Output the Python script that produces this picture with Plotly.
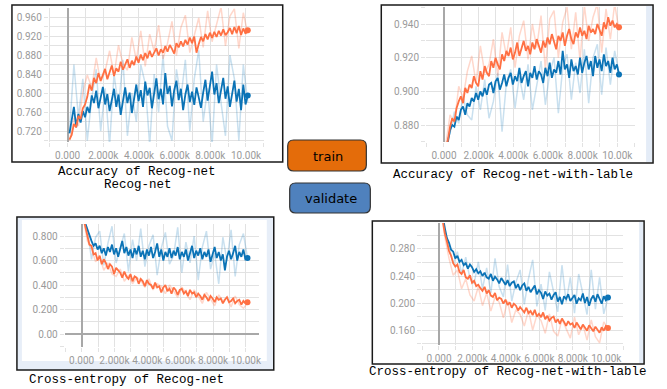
import plotly.graph_objects as go

W, H = 667, 389

# ---------------- data ----------------
steps = list(range(100, 10101, 125))      # training steps (81 points)
raw_steps = steps[::2]                     # raw (unsmoothed) points (41)

x_tickvals = [0, 2000, 4000, 6000, 8000, 10000]
x_ticktext = ["0.000", "2.000k", "4.000k", "6.000k", "8.000k", "10.00k"]

# Panel 1: Accuracy of Recog-net
acc_train = [0.702, 0.712, 0.735, 0.728, 0.752, 0.745, 0.768, 0.776, 0.792, 0.818,
             0.805, 0.832, 0.821, 0.842, 0.826, 0.838, 0.851, 0.829, 0.846, 0.858,
             0.836, 0.852, 0.845, 0.866, 0.849, 0.862, 0.871, 0.853, 0.868, 0.859,
             0.877, 0.864, 0.881, 0.869, 0.884, 0.873, 0.889, 0.876, 0.886, 0.894,
             0.879, 0.892, 0.885, 0.899, 0.887, 0.901, 0.893, 0.883, 0.905, 0.896,
             0.909, 0.898, 0.912, 0.902, 0.917, 0.905, 0.919, 0.885, 0.903, 0.918,
             0.909, 0.924, 0.913, 0.927, 0.916, 0.929, 0.918, 0.931, 0.921, 0.934,
             0.922, 0.928, 0.937, 0.924, 0.939, 0.926, 0.941, 0.922, 0.936, 0.925, 0.932]
acc_val = [0.715, 0.742, 0.771, 0.728, 0.756, 0.738, 0.762, 0.749, 0.771, 0.758,
           0.795, 0.779, 0.805, 0.768, 0.792, 0.813, 0.776, 0.798, 0.762, 0.788,
           0.809, 0.771, 0.797, 0.754, 0.786, 0.812, 0.779, 0.801, 0.758, 0.792,
           0.818, 0.783, 0.806, 0.771, 0.824, 0.795, 0.811, 0.768, 0.802, 0.831,
           0.787, 0.809, 0.776, 0.842, 0.798, 0.815, 0.772, 0.806, 0.826, 0.785,
           0.809, 0.764, 0.797, 0.818, 0.781, 0.803, 0.775, 0.812, 0.791, 0.769,
           0.801, 0.828, 0.784, 0.812, 0.845, 0.797, 0.821, 0.779, 0.806, 0.832,
           0.788, 0.814, 0.771, 0.803, 0.826, 0.782, 0.809, 0.764, 0.818, 0.776, 0.795]
acc_train_raw = [0.700, 0.748, 0.731, 0.802, 0.838, 0.811, 0.874, 0.823, 0.846, 0.889,
                 0.838, 0.901, 0.862, 0.848, 0.917, 0.869, 0.931, 0.856, 0.924, 0.888,
                 0.943, 0.872, 0.905, 0.951, 0.879, 0.938, 0.964, 0.885, 0.921, 0.958,
                 0.896, 0.973, 0.908, 0.947, 0.981, 0.899, 0.962, 0.977, 0.894, 0.969, 0.925]
acc_val_raw = [0.72, 0.86, 0.75, 0.83, 0.70, 0.79, 0.85, 0.72, 0.81, 0.69,
               0.84, 0.77, 0.87, 0.71, 0.80, 0.74, 0.86, 0.82, 0.69, 0.84,
               0.76, 0.88, 0.73, 0.70, 0.85, 0.79, 0.87, 0.72, 0.83, 0.89,
               0.74, 0.81, 0.69, 0.86, 0.78, 0.71, 0.88, 0.83, 0.70, 0.86, 0.78]

# Panel 2: Accuracy of Recog-net-with-lable
accl_train = [0.866, 0.871, 0.879, 0.884, 0.882, 0.890, 0.894, 0.897, 0.893, 0.902,
              0.899, 0.904, 0.902, 0.909, 0.905, 0.903, 0.912, 0.907, 0.915, 0.911,
              0.909, 0.918, 0.914, 0.920, 0.916, 0.913, 0.922, 0.918, 0.924, 0.921,
              0.926, 0.919, 0.923, 0.929, 0.921, 0.925, 0.930, 0.924, 0.927, 0.922,
              0.929, 0.925, 0.931, 0.927, 0.923, 0.930, 0.926, 0.932, 0.928, 0.934,
              0.929, 0.925, 0.933, 0.930, 0.935, 0.927, 0.933, 0.937, 0.931, 0.928,
              0.935, 0.932, 0.938, 0.933, 0.936, 0.931, 0.939, 0.935, 0.937, 0.934,
              0.940, 0.936, 0.933, 0.941, 0.937, 0.944, 0.939, 0.942, 0.938, 0.940, 0.938]
accl_val = [0.866, 0.870, 0.877, 0.880, 0.879, 0.885, 0.883, 0.889, 0.891, 0.886,
            0.893, 0.891, 0.896, 0.894, 0.899, 0.895, 0.900, 0.897, 0.902, 0.898,
            0.904, 0.905, 0.899, 0.906, 0.908, 0.901, 0.905, 0.910, 0.903, 0.908,
            0.911, 0.904, 0.909, 0.906, 0.914, 0.905, 0.909, 0.912, 0.903, 0.911,
            0.908, 0.915, 0.907, 0.912, 0.910, 0.905, 0.914, 0.909, 0.917, 0.908,
            0.913, 0.911, 0.918, 0.910, 0.924, 0.913, 0.916, 0.908, 0.919, 0.912,
            0.915, 0.910, 0.920, 0.911, 0.917, 0.921, 0.913, 0.918, 0.909, 0.921,
            0.914, 0.919, 0.912, 0.922, 0.915, 0.918, 0.911, 0.920, 0.913, 0.916, 0.910]
accl_train_raw = [0.868, 0.886, 0.881, 0.903, 0.896, 0.912, 0.921, 0.905, 0.927, 0.911,
                  0.916, 0.931, 0.909, 0.935, 0.921, 0.938, 0.914, 0.933, 0.942, 0.919,
                  0.940, 0.926, 0.945, 0.913, 0.943, 0.948, 0.920, 0.941, 0.950, 0.925,
                  0.947, 0.918, 0.951, 0.930, 0.944, 0.952, 0.923, 0.949, 0.931, 0.952, 0.936]
accl_val_raw = [0.868, 0.875, 0.888, 0.881, 0.897, 0.886, 0.883, 0.903, 0.889, 0.907,
                0.884, 0.894, 0.911, 0.876, 0.905, 0.913, 0.890, 0.909, 0.895, 0.916,
                0.889, 0.903, 0.918, 0.892, 0.911, 0.920, 0.887, 0.914, 0.922, 0.895,
                0.917, 0.899, 0.925, 0.893, 0.920, 0.928, 0.898, 0.926, 0.904, 0.924, 0.911]

# Panel 3: Cross-entropy of Recog-net
ce_train = [0.95, 0.87, 0.80, 0.73, 0.72, 0.65, 0.66, 0.60, 0.64, 0.57,
            0.61, 0.58, 0.53, 0.57, 0.55, 0.49, 0.54, 0.52, 0.50, 0.46,
            0.51, 0.47, 0.45, 0.49, 0.43, 0.47, 0.46, 0.41, 0.45, 0.43,
            0.39, 0.44, 0.41, 0.40, 0.37, 0.42, 0.38, 0.39, 0.34, 0.38,
            0.40, 0.35, 0.37, 0.33, 0.38, 0.36, 0.32, 0.36, 0.37, 0.33,
            0.35, 0.31, 0.36, 0.33, 0.34, 0.30, 0.33, 0.31, 0.28, 0.32,
            0.30, 0.27, 0.31, 0.29, 0.26, 0.30, 0.28, 0.29, 0.25, 0.28,
            0.30, 0.26, 0.27, 0.29, 0.25, 0.27, 0.28, 0.24, 0.27, 0.25, 0.26]
ce_val = [0.95, 0.90, 0.85, 0.80, 0.76, 0.72, 0.74, 0.69, 0.72, 0.66,
          0.70, 0.64, 0.71, 0.67, 0.73, 0.65, 0.70, 0.63, 0.69, 0.76,
          0.66, 0.71, 0.64, 0.69, 0.62, 0.70, 0.65, 0.72, 0.63, 0.68,
          0.61, 0.69, 0.64, 0.71, 0.62, 0.67, 0.74, 0.63, 0.69, 0.60,
          0.67, 0.63, 0.70, 0.62, 0.68, 0.64, 0.71, 0.61, 0.67, 0.63,
          0.69, 0.60, 0.66, 0.72, 0.62, 0.68, 0.64, 0.70, 0.61, 0.67,
          0.63, 0.69, 0.59, 0.66, 0.71, 0.62, 0.67, 0.60, 0.65, 0.52,
          0.63, 0.68, 0.61, 0.66, 0.72, 0.60, 0.67, 0.63, 0.69, 0.61, 0.62]
ce_train_raw = [0.95, 0.76, 0.70, 0.59, 0.63, 0.52, 0.58, 0.49, 0.47, 0.53,
                0.43, 0.48, 0.41, 0.46, 0.44, 0.38, 0.45, 0.36, 0.41, 0.39,
                0.33, 0.40, 0.35, 0.30, 0.38, 0.34, 0.28, 0.36, 0.31, 0.25,
                0.34, 0.29, 0.23, 0.32, 0.27, 0.30, 0.22, 0.31, 0.24, 0.21, 0.25]
ce_val_raw = [0.95, 0.86, 0.61, 0.79, 0.84, 0.56, 0.74, 0.88, 0.58, 0.69,
              0.82, 0.51, 0.77, 0.60, 0.86, 0.55, 0.72, 0.81, 0.48, 0.70,
              0.83, 0.57, 0.64, 0.87, 0.50, 0.75, 0.58, 0.80, 0.44, 0.71,
              0.84, 0.53, 0.66, 0.41, 0.79, 0.60, 0.85, 0.47, 0.73, 0.82, 0.62]

# Panel 4: Cross-entropy of Recog-net-with-lable
cel_train = [0.340, 0.320, 0.303, 0.291, 0.277, 0.270, 0.259, 0.254, 0.257, 0.246,
             0.243, 0.249, 0.238, 0.236, 0.241, 0.230, 0.233, 0.225, 0.227, 0.222,
             0.218, 0.224, 0.214, 0.219, 0.211, 0.209, 0.215, 0.204, 0.208, 0.206,
             0.199, 0.205, 0.197, 0.201, 0.193, 0.199, 0.196, 0.189, 0.194, 0.190,
             0.186, 0.193, 0.185, 0.188, 0.182, 0.190, 0.180, 0.184, 0.179, 0.186,
             0.176, 0.181, 0.174, 0.178, 0.180, 0.171, 0.176, 0.169, 0.177, 0.172,
             0.166, 0.173, 0.168, 0.170, 0.163, 0.171, 0.166, 0.161, 0.168, 0.164,
             0.159, 0.167, 0.162, 0.158, 0.165, 0.160, 0.156, 0.164, 0.159, 0.166, 0.163]
cel_val = [0.345, 0.326, 0.311, 0.296, 0.289, 0.279, 0.276, 0.266, 0.270, 0.261,
           0.264, 0.256, 0.259, 0.251, 0.257, 0.253, 0.246, 0.250, 0.244, 0.247,
           0.240, 0.245, 0.238, 0.236, 0.243, 0.233, 0.239, 0.235, 0.229, 0.237,
           0.231, 0.227, 0.234, 0.225, 0.230, 0.232, 0.222, 0.228, 0.219, 0.226,
           0.229, 0.218, 0.224, 0.216, 0.221, 0.226, 0.213, 0.219, 0.215, 0.206,
           0.217, 0.211, 0.214, 0.205, 0.212, 0.216, 0.202, 0.209, 0.198, 0.210,
           0.206, 0.213, 0.203, 0.208, 0.212, 0.199, 0.207, 0.204, 0.214, 0.200,
           0.209, 0.196, 0.206, 0.211, 0.202, 0.213, 0.205, 0.199, 0.210, 0.204, 0.208]
cel_train_raw = [0.340, 0.298, 0.266, 0.241, 0.249, 0.221, 0.236, 0.212, 0.203, 0.224,
                 0.196, 0.215, 0.188, 0.209, 0.201, 0.178, 0.203, 0.171, 0.190, 0.183,
                 0.166, 0.189, 0.160, 0.182, 0.174, 0.155, 0.184, 0.158, 0.151, 0.176,
                 0.162, 0.148, 0.179, 0.153, 0.168, 0.145, 0.175, 0.150, 0.141, 0.172, 0.162]
cel_val_raw = [0.345, 0.306, 0.283, 0.258, 0.276, 0.243, 0.268, 0.236, 0.229, 0.261,
               0.221, 0.252, 0.215, 0.266, 0.224, 0.209, 0.257, 0.203, 0.231, 0.249,
               0.198, 0.236, 0.264, 0.195, 0.228, 0.189, 0.246, 0.214, 0.187, 0.256,
               0.201, 0.238, 0.185, 0.243, 0.212, 0.183, 0.249, 0.191, 0.238, 0.184, 0.208]

captions = ["Accuracy of Recog-net", "Recog-net", "Accuracy of Recog-net-with-lable",
            "Cross-entropy of Recog-net", "Cross-entropy of Recog-net-with-lable"]
legend_labels = ["train", "validate"]

# ---------------- styling ----------------
TRAIN = "#ff7043"
VAL = "#0b73b6"
TRAIN_RAW = "rgba(255,112,67,0.28)"
VAL_RAW = "rgba(11,115,182,0.22)"
GRID = "#e2e2e2"
TICKFONT = dict(family="Roboto", size=10, color="#9a9a9a")


def px(x):
    return x / W


def py(y):
    return 1 - y / H


panels = [
    dict(xd=(49, 265), yd=(8, 142), xr=(-1060, 11000), yr=(0.697, 0.979),
         yticks=[0.72, 0.76, 0.80, 0.84, 0.88, 0.92, 0.96],
         ytext=["0.720", "0.760", "0.800", "0.840", "0.880", "0.920", "0.960"], ydm=0.02,
         data=(acc_train, acc_val, acc_train_raw, acc_val_raw)),
    dict(xd=(428, 638), yd=(7, 142), xr=(-1034, 11030), yr=(0.8699, 0.9501),
         yticks=[0.88, 0.90, 0.92, 0.94],
         ytext=["0.880", "0.900", "0.920", "0.940"], ydm=0.01,
         data=(accl_train, accl_val, accl_train_raw, accl_val_raw)),
    dict(xd=(65, 260), yd=(224, 347), xr=(-1030, 10790), yr=(-0.106, 0.898),
         yticks=[0.0, 0.2, 0.4, 0.6, 0.8],
         ytext=["0.00", "0.200", "0.400", "0.600", "0.800"], ydm=0.1,
         data=(ce_train, ce_val, ce_train_raw, ce_val_raw)),
    dict(xd=(424, 626), yd=(223, 345), xr=(-1010, 11010), yr=(0.1378, 0.3185),
         yticks=[0.16, 0.20, 0.24, 0.28],
         ytext=["0.160", "0.200", "0.240", "0.280"], ydm=0.02,
         data=(cel_train, cel_val, cel_train_raw, cel_val_raw)),
]

fig = go.Figure()
layout = dict(width=W, height=H, margin=dict(l=0, r=0, t=0, b=0),
              paper_bgcolor="white", plot_bgcolor="rgba(0,0,0,0)",
              showlegend=False)

for i, p in enumerate(panels, start=1):
    xa = "x" if i == 1 else f"x{i}"
    ya = "y" if i == 1 else f"y{i}"
    tr, va, trr, var = p["data"]
    fig.add_trace(go.Scatter(x=raw_steps, y=var, mode="lines", xaxis=xa, yaxis=ya,
                             line=dict(color=VAL_RAW, width=1.5)))
    fig.add_trace(go.Scatter(x=raw_steps, y=trr, mode="lines", xaxis=xa, yaxis=ya,
                             line=dict(color=TRAIN_RAW, width=1.5)))
    fig.add_trace(go.Scatter(x=steps, y=va, mode="lines", xaxis=xa, yaxis=ya,
                             line=dict(color=VAL, width=1.8)))
    fig.add_trace(go.Scatter(x=steps, y=tr, mode="lines", xaxis=xa, yaxis=ya,
                             line=dict(color=TRAIN, width=1.8)))
    fig.add_trace(go.Scatter(x=[steps[-1]], y=[va[-1]], mode="markers", xaxis=xa, yaxis=ya,
                             marker=dict(color=VAL, size=6), cliponaxis=True))
    fig.add_trace(go.Scatter(x=[steps[-1]], y=[tr[-1]], mode="markers", xaxis=xa, yaxis=ya,
                             marker=dict(color=TRAIN, size=6), cliponaxis=True))

    xkey = "xaxis" if i == 1 else f"xaxis{i}"
    ykey = "yaxis" if i == 1 else f"yaxis{i}"
    layout[xkey] = dict(
        domain=[px(p["xd"][0]), px(p["xd"][1])], anchor=ya, range=list(p["xr"]),
        tickmode="array", tickvals=x_tickvals, ticktext=x_ticktext, tickangle=0,
        tickfont=TICKFONT, showgrid=True, gridcolor=GRID, gridwidth=1,
        ticks="outside", ticklen=4, tickcolor=GRID,
        minor=dict(tickmode="linear", tick0=0, dtick=1000, showgrid=True,
                   gridcolor=GRID, ticks="outside", ticklen=4, tickcolor=GRID),
        zeroline=True, zerolinecolor="#a8a8a8", zerolinewidth=1.5,
        showline=False, fixedrange=True)
    layout[ykey] = dict(
        domain=[py(p["yd"][1]), py(p["yd"][0])], anchor=xa, range=list(p["yr"]),
        tickmode="array", tickvals=p["yticks"], ticktext=p["ytext"],
        tickfont=TICKFONT, showgrid=True, gridcolor=GRID, gridwidth=1,
        ticks="outside", ticklen=4, tickcolor=GRID,
        minor=dict(tickmode="linear", tick0=0, dtick=p["ydm"], showgrid=True,
                   gridcolor=GRID, ticks="outside", ticklen=4, tickcolor=GRID),
        zeroline=True, zerolinecolor="#a8a8a8", zerolinewidth=1.5,
        showline=False, fixedrange=True)

shapes = []


def rect(x0, y0, x1, y1, fill=None, line=None, width=1.5, layer="below"):
    shapes.append(dict(type="rect", xref="paper", yref="paper",
                       x0=px(x0), x1=px(x1), y0=py(y1), y1=py(y0),
                       fillcolor=fill if fill else "rgba(0,0,0,0)",
                       line=dict(color=line if line else "rgba(0,0,0,0)",
                                 width=width if line else 0),
                       layer=layer))


def rounded(x0, y0, x1, y1, r, fill, line="#333333"):
    pts = [
        ("M", [(x0 + r, y0)]), ("L", [(x1 - r, y0)]), ("Q", [(x1, y0), (x1, y0 + r)]),
        ("L", [(x1, y1 - r)]), ("Q", [(x1, y1), (x1 - r, y1)]), ("L", [(x0 + r, y1)]),
        ("Q", [(x0, y1), (x0, y1 - r)]), ("L", [(x0, y0 + r)]), ("Q", [(x0, y0), (x0 + r, y0)]),
    ]
    d = " ".join(c + " " + " ".join(f"{px(a):.5f},{py(b):.5f}" for a, b in pl) for c, pl in pts) + " Z"
    shapes.append(dict(type="path", xref="paper", yref="paper", path=d,
                       fillcolor=fill, line=dict(color=line, width=1.2), layer="above"))


# panel backgrounds / frames
rect(17, 217, 275, 370, fill="#e7eef8")
rect(22, 220, 268, 361, fill="white")
rect(649, 6, 655, 162, fill="#e4ecf7")
rect(642, 222, 646, 363, fill="#e4ecf7")
rect(12, 5, 284, 162, line="#1a1a1a", width=1.5, layer="above")
rect(383, 5, 656, 163, line="#1a1a1a", width=1.5, layer="above")
rect(17, 217, 275, 370, line="#1a1a1a", width=1.5, layer="above")
rect(374, 221, 647, 364, line="#1a1a1a", width=1.5, layer="above")

# legend buttons
rounded(289, 140, 368, 171, 6, "#e46c0a")
rounded(291, 183, 372, 213, 6, "#4f81bd")

annotations = []


def text(x, y, s, size, family, color="black"):
    annotations.append(dict(xref="paper", yref="paper", x=px(x), y=py(y), text=s,
                            showarrow=False, xanchor="center", yanchor="middle",
                            font=dict(family=family, size=size, color=color)))


CAP = "Liberation Mono"
text(138, 172, captions[0], 12.5, CAP)
text(139, 185, captions[1], 12.5, CAP)
text(515, 175, captions[2], 12.5, CAP)
text(127, 380, captions[3], 12.5, CAP)
text(510, 372, captions[4], 12.5, CAP)
text(329, 156, legend_labels[0], 13, "DejaVu Sans")
text(332, 198, legend_labels[1], 13, "DejaVu Sans")

layout["shapes"] = shapes
layout["annotations"] = annotations
fig.update_layout(**layout)
fig.write_html("out.html", config={"displayModeBar": False})
